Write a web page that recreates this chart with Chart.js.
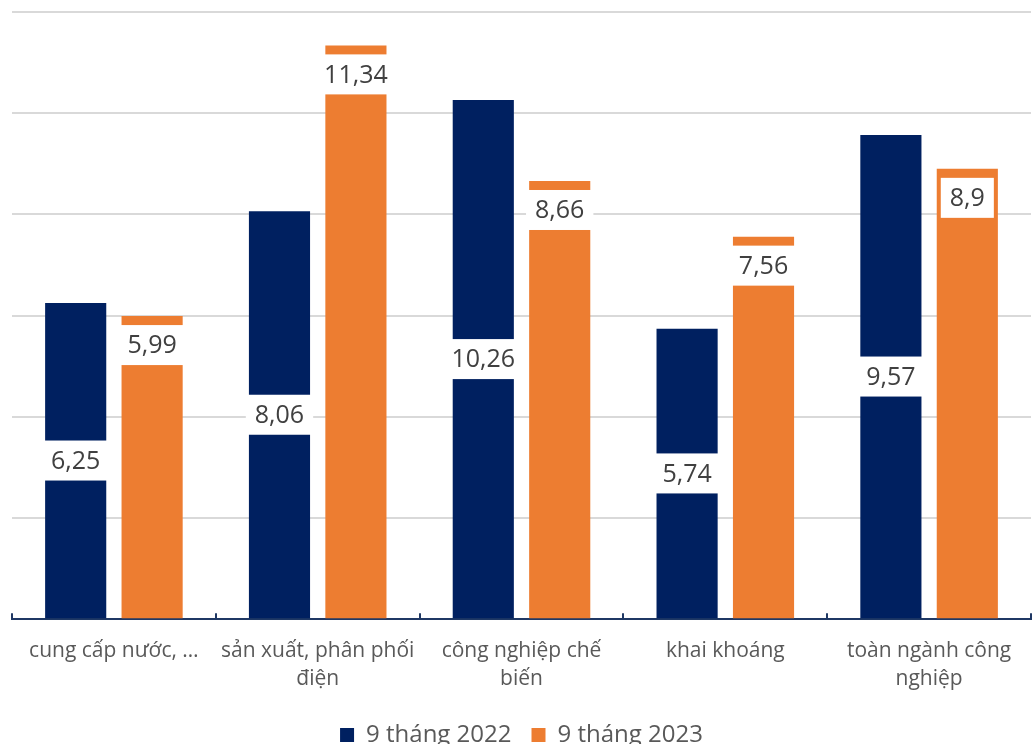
<!DOCTYPE html>
<html lang="vi">
<head>
<meta charset="utf-8">
<script src="https://cdn.jsdelivr.net/npm/chart.js@4/dist/chart.umd.min.js"></script>
<style>
    html, body { margin: 0; padding: 0; background: #fff; overflow: hidden; }
    #wrap { position: relative; width: 1035px; height: 757px; }
</style>
</head>
<body>
<div id="wrap"><canvas id="chart"></canvas></div>
<script>
// --- dữ liệu
const categories = [
    "cung cấp nước, …",
    ["sản xuất, phân phối", "điện"],
    ["công nghiệp chế", "biến"],
    "khai khoáng",
    ["toàn ngành công", "nghiệp"],
];
const values2022 = [6.25, 8.06, 10.26, 5.74, 9.57];
const values2023 = [5.99, 11.34, 8.66, 7.56, 8.9];
const seriesNames = ["9 tháng 2022", "9 tháng 2023"];

const NAVY = "#002060";
const ORANGE = "#ED7D31";
const FONT = "'Open Sans', sans-serif";

// nhãn số trong hộp trắng (không có plugin datalabels)
const valueLabels = {
    id: "valueLabels",
    afterDatasetsDraw(chart) {
        const ctx = chart.ctx;
        ctx.save();
        ctx.font = "25px " + FONT;
        ctx.textAlign = "center";
        ctx.textBaseline = "middle";
        chart.data.datasets.forEach((ds, di) => {
            const meta = chart.getDatasetMeta(di);
            meta.data.forEach((bar, i) => {
                const text = String(ds.data[i]).replace(".", ",");
                const w = ctx.measureText(text).width + 18;
                const h = 40;
                const cy = di === 0 ? (bar.y + bar.base) / 2 : bar.y + 9 + h / 2;
                ctx.fillStyle = "#fff";
                ctx.fillRect(bar.x - w / 2, cy - h / 2, w, h);
                ctx.fillStyle = "#404040";
                ctx.fillText(text, bar.x, cy + 1);
            });
        });
        ctx.restore();
    },
};

// vạch chia nhỏ hướng lên trên trục x
const upTicks = {
    id: "upTicks",
    afterDraw(chart) {
        const x = chart.scales.x;
        const ctx = chart.ctx;
        const step = x.width / categories.length;
        ctx.save();
        ctx.strokeStyle = "#1F3864";
        ctx.lineWidth = 2;
        for (let i = 0; i <= categories.length; i++) {
            const px = Math.round(x.left + step * i);
            ctx.beginPath();
            ctx.moveTo(px, x.top);
            ctx.lineTo(px, x.top - 6);
            ctx.stroke();
        }
        ctx.restore();
    },
};

new Chart(document.getElementById("chart"), {
    type: "bar",
    data: {
        labels: categories,
        datasets: [
            { label: seriesNames[0], data: values2022, backgroundColor: NAVY },
            { label: seriesNames[1], data: values2023, backgroundColor: ORANGE },
        ],
    },
    options: {
        responsive: true,
        maintainAspectRatio: false,
        animation: false,
        layout: { padding: { left: 12, right: 4, top: 12, bottom: 0 } },
        datasets: { bar: { categoryPercentage: 0.75, barPercentage: 0.8 } },
        scales: {
            x: {
                grid: { display: false },
                border: { display: true, color: "#1F3864", width: 2 },
                ticks: {
                    color: "#595959",
                    font: { family: FONT, size: 21, lineHeight: 1.33 },
                    padding: 10,
                    maxRotation: 0,
                    autoSkip: false,
                },
            },
            y: {
                min: 0, max: 12,
                ticks: { display: false, stepSize: 2 },
                grid: { color: "#d9d9d9", lineWidth: 2, drawTicks: false },
                border: { display: false },
            },
        },
        plugins: {
            tooltip: { enabled: false },
            legend: {
                position: "bottom",
                labels: {
                    color: "#595959",
                    font: { family: FONT, size: 24 },
                    boxWidth: 14,
                    boxHeight: 14,
                    padding: 20,
                },
            },
        },
    },
    plugins: [valueLabels, upTicks],
});
</script>
</body>
</html>
